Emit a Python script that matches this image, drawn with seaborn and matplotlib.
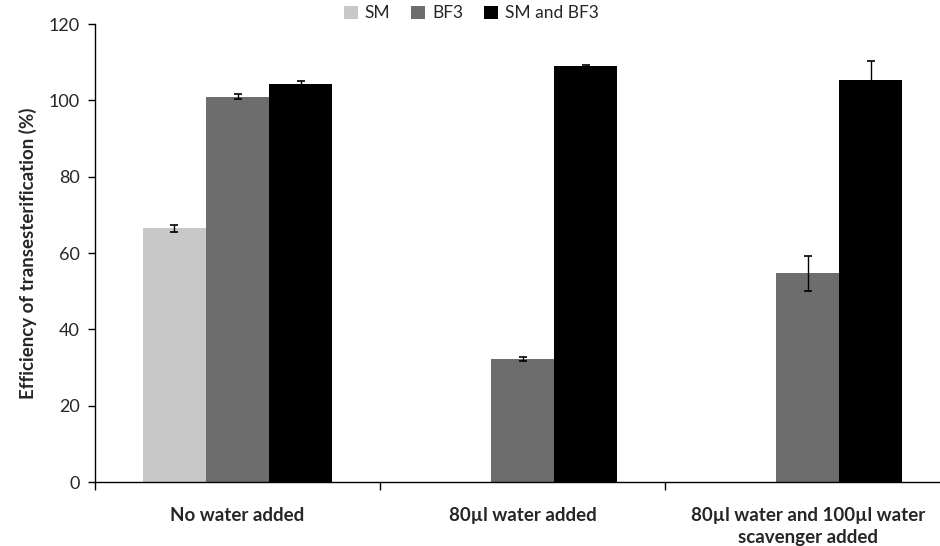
import matplotlib
matplotlib.use('Agg')
import matplotlib.pyplot as plt
import pandas as pd
import numpy as np
import seaborn as sns

# Data
groups = ['No water added', '80µl water added', '80µl water and 100µl water\nscavenger added']
series = ['SM', 'BF3', 'SM and BF3']
sm = [66.5, 0, 0]
bf3 = [101.0, 32.3, 54.7]
sm_bf3 = [104.3, 108.9, 105.3]
sm_err = [0.9, 0, 0]
bf3_err = [0.7, 0.6, 4.6]
sm_bf3_err = [0.9, 0.3, 4.9]
colors = ['#c8c8c8', '#6d6d6d', '#000000']

df = pd.DataFrame({
    'group': groups * 3,
    'series': [s for s in series for _ in groups],
    'value': sm + bf3 + sm_bf3,
    'err': sm_err + bf3_err + sm_bf3_err,
})

sns.set_style('white')
plt.rcParams['font.family'] = ['Lato', 'DejaVu Sans']

fig = plt.figure(figsize=(9.4, 5.46), dpi=100)
ax = fig.add_axes([0.101, 0.117, 0.91, 0.839])

sns.barplot(data=df, x='group', y='value', hue='series', order=groups,
            hue_order=series, palette=colors, width=0.663, errorbar=None,
            saturation=1, ax=ax, linewidth=0)

# Error bars on each bar
for cont, s in zip(ax.containers, series):
    sub = df[df['series'] == s].set_index('group').loc[groups]
    for patch, v, e in zip(cont.patches, sub['value'], sub['err']):
        if v == 0:
            continue
        cx = patch.get_x() + patch.get_width() / 2
        ax.errorbar(cx, v, yerr=e, color='black', capsize=3, elinewidth=1,
                    capthick=1.2)

ax.set_xlim(-0.5, 2.5)
ax.set_ylim(0, 120)
ax.set_yticks(np.arange(0, 121, 20))
ax.tick_params(axis='y', labelsize=13, length=5, width=1, color='black',
               direction='out', left=True, pad=6)
ax.set_xticks(range(3))
ax.set_xticklabels(groups, fontweight='bold', fontsize=13.5, linespacing=1.35)
ax.tick_params(axis='x', length=0, pad=18)
ax.set_xticks([-0.5, 0.5, 1.5], minor=True)
ax.tick_params(axis='x', which='minor', length=6, width=1, color='black',
               direction='out', bottom=True)
ax.set_xlabel('')
ax.set_ylabel('Efficiency of transesterification (%)', fontweight='bold',
              fontsize=13.5, labelpad=8)
sns.despine(ax=ax, top=True, right=True)
for sp in ['left', 'bottom']:
    ax.spines[sp].set_color('black')
    ax.spines[sp].set_linewidth(1)

ax.legend(loc='upper center', bbox_to_anchor=(0.44, 1.075), ncol=3,
          frameon=False, fontsize=12.5, handlelength=0.8, handleheight=0.8,
          columnspacing=1.2, handletextpad=0.4)

fig.savefig('out.png', dpi=100)
